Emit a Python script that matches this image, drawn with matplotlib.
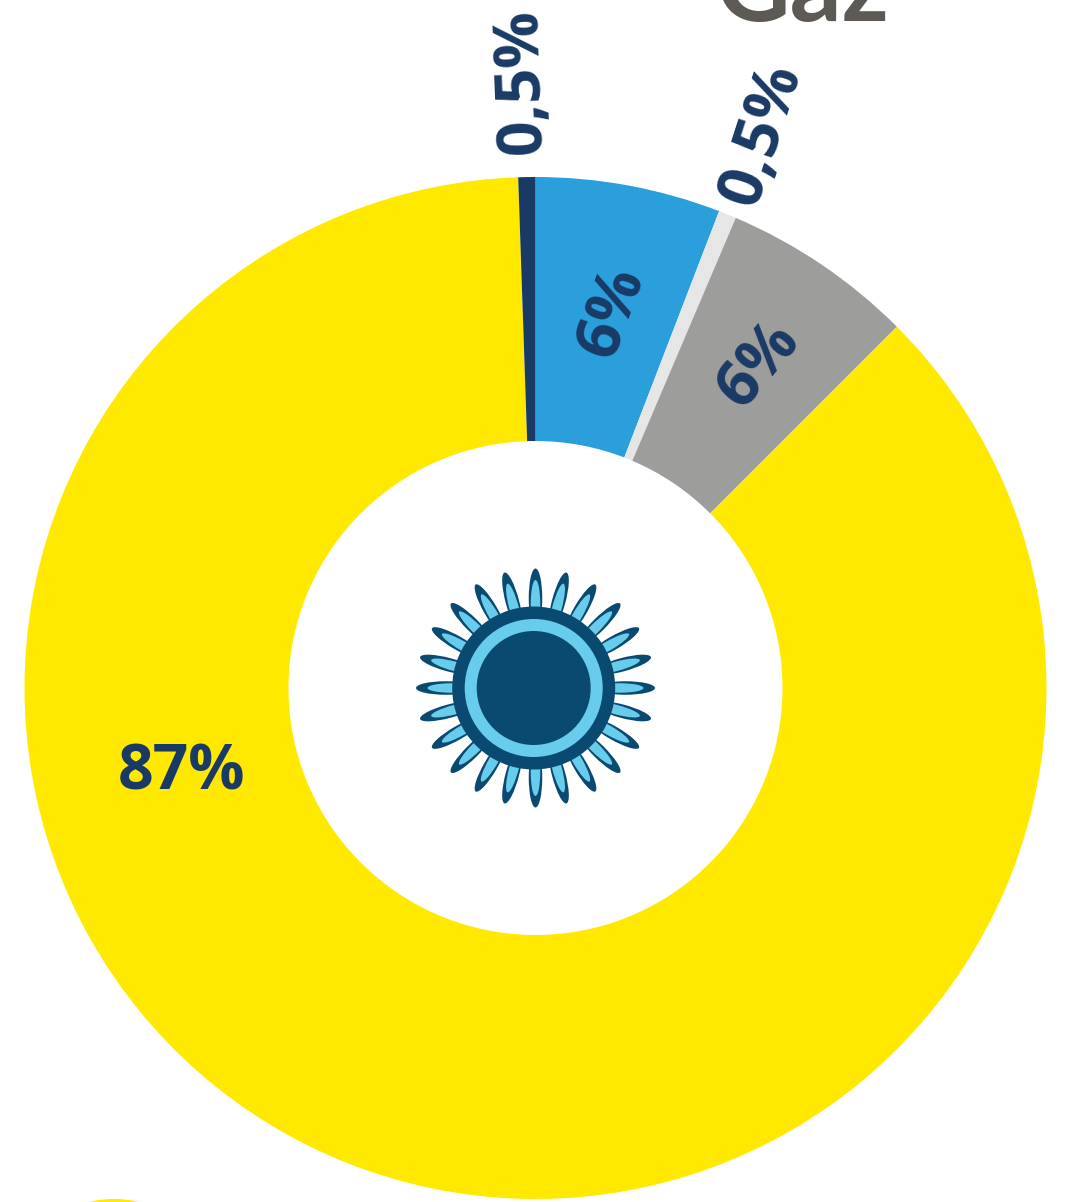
import numpy as np
import matplotlib
matplotlib.use('Agg')
import matplotlib.pyplot as plt
from matplotlib.patches import Circle, Ellipse

# parts of the ring, clockwise from 12 o'clock
part_names = ['blue', 'light grey', 'grey', 'yellow', 'navy']
part_values = [5.85, 0.56, 6.09, 86.96, 0.54]
part_colors = ['#2A9FDB', '#E6E6E6', '#9D9D9C', '#FFE900', '#1A3A66']

# labels: text, x, y (pixels from top left), rotation
label_texts = ['0,5%', '0,5%', '6%', '6%', '87%']
label_x = [522, 762, 613, 759, 181]
label_y = [81, 134, 312, 365, 773]
label_rot = [92, 72, 70, 50, 0]

W, H = 1076, 1202
NAVY = '#1A3A66'
SUN_DARK = '#0B4A70'
SUN_LIGHT = '#68CCEC'

fig = plt.figure(figsize=(W / 100, H / 100), dpi=100)
ax = fig.add_axes([0, 0, 1, 1])


def py(y):
    return H - y


R = 511
ax.pie(part_values, colors=part_colors, startangle=90, counterclock=False,
       radius=R, center=(535.5, py(688)),
       wedgeprops=dict(width=R - 247, linewidth=0), frame=True)
ax.set_xlim(0, W)
ax.set_ylim(0, H)
ax.set_aspect('equal')
ax.axis('off')

# petals of the flame
cx, cy = 535.5, py(688)
for a in np.arange(0, 360, 15):
    t = np.deg2rad(a)
    ax.add_patch(Ellipse((cx + 90 * np.cos(t), cy + 90 * np.sin(t)), 59, 13.5,
                         angle=a, fc=SUN_DARK, ec='none', zorder=3))
    ax.add_patch(Ellipse((cx + 84 * np.cos(t), cy + 84 * np.sin(t)), 48, 9.5,
                         angle=a, fc=SUN_LIGHT, ec='none', zorder=4))
ax.add_patch(Circle((533.7, cy), 81.5, fc=SUN_DARK, ec='none', zorder=5))
ax.add_patch(Circle((533.7, cy), 69, fc=SUN_LIGHT, ec='none', zorder=6))
ax.add_patch(Circle((533.7, cy), 57, fc=SUN_DARK, ec='none', zorder=7))

for s, x, y, r in zip(label_texts, label_x, label_y, label_rot):
    ax.text(x, py(y), s, rotation=r, rotation_mode='anchor', ha='center', va='center',
            family='Open Sans', weight='bold', fontsize=45, color=NAVY, zorder=8)

# title cut by the top edge
ax.text(802, py(21), 'Gaz', ha='center', va='baseline', family='Lato',
        weight='bold', fontsize=74, color='#5D5955', zorder=8)

# top of the next chart's dot, cut by the bottom edge
ax.add_patch(Circle((114, py(1199 + 105)), 105, fc='#FFE900', ec='none', zorder=2))

fig.savefig('out.png', dpi=100)
